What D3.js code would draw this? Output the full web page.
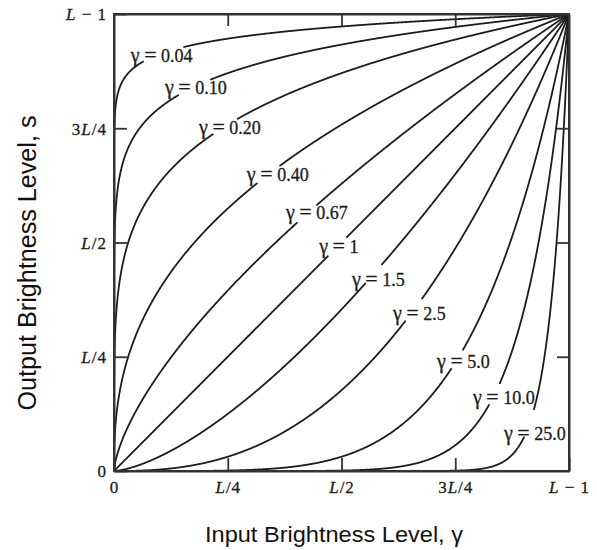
<!DOCTYPE html>
<html>
<head>
<meta charset="utf-8">
<script src="https://cdn.jsdelivr.net/npm/d3@7"></script>
<style>
  html, body { margin: 0; padding: 0; background: #ffffff; }
  svg { display: block; }
</style>
</head>
<body>
<svg id="chart" width="597" height="550"></svg>
<script>
// ---------------- DATA ----------------
// Power-law (gamma) transformation curves s = c·r^γ, both axes normalised to [0, L−1]
const gammas      = [0.04, 0.10, 0.20, 0.40, 0.67, 1, 1.5, 2.5, 5.0, 10.0, 25.0];
const gammaLabels = ["0.04", "0.10", "0.20", "0.40", "0.67", "1", "1.5", "2.5", "5.0", "10.0", "25.0"];
// input level (fraction of L−1) where each curve is interrupted for its label
const gapStart    = [0.064, 0.141, 0.217, 0.314, 0.402, 0.470, 0.552, 0.640, 0.741, 0.824, 0.901];
const gapEnd      = [0.154, 0.213, 0.272, 0.365, 0.446, 0.512, 0.589, 0.677, 0.767, 0.848, 0.923];
// axis ticks
const tickValues  = [0, 0.25, 0.5, 0.75, 1];
const tickLabels  = ["0", "L/4", "L/2", "3L/4", "L − 1"];

// ---------------- LAYOUT (label anchors in data units: start x, baseline y) ----------------
const labelAnchorR = [0.037, 0.112, 0.187, 0.292, 0.378, 0.451, 0.523, 0.613, 0.710, 0.789, 0.857];
const labelAnchorS = [0.894, 0.824, 0.737, 0.635, 0.551, 0.477, 0.405, 0.330, 0.225, 0.147, 0.068];

(function () {
const svg = d3.select("#chart");
const pLeft = 114, pRight = 569, pTop = 14, pBottom = 471;

const x = d3.scaleLinear().domain([0, 1]).range([pLeft, pRight]);
const y = d3.scaleLinear().domain([0, 1]).range([pBottom, pTop]);

const serif = "'Liberation Serif', 'Times New Roman', serif";
const sans = "'Liberation Sans', Arial, sans-serif";
const ink = "#1c1c1c";

// sample input levels densely (finer near 0 for the steep small-gamma curves)
const rSamples = d3.range(0, 1.00001, 0.0005).map(t => t * t);
const rFine = Array.from(new Set(rSamples.concat(d3.range(0, 1.00001, 0.002)))).sort((a, b) => a - b);

const line = d3.line().x(d => x(d[0])).y(d => y(d[1]));

const curves = svg.append("g").attr("fill", "none").attr("stroke", ink)
  .attr("stroke-width", 1.8).attr("stroke-linecap", "round");

gammas.forEach((g, i) => {
  const pw = d3.scalePow().exponent(g).domain([0, 1]).range([0, 1]);
  const seg1 = rFine.filter(r => r <= gapStart[i]).concat([gapStart[i]]).map(r => [r, pw(r)]);
  const seg2 = [gapEnd[i]].concat(rFine.filter(r => r >= gapEnd[i])).map(r => [r, pw(r)]);
  curves.append("path").attr("d", line(seg1));
  curves.append("path").attr("d", line(seg2));
});

// curve labels
const labels = svg.append("g").attr("font-family", serif).attr("fill", ink)
  .attr("stroke", ink).attr("stroke-width", 0.3);
gammas.forEach((g, i) => {
  const t = labels.append("text")
    .attr("x", x(labelAnchorR[i]))
    .attr("y", y(labelAnchorS[i]));
  t.append("tspan").attr("font-size", 20).text("γ");
  t.append("tspan").attr("font-size", 22).attr("dx", 4.5).text("=");
  t.append("tspan").attr("font-size", 18).attr("dx", 4.5).text(gammaLabels[i]);
});

// axes (inward ticks)
function styleTickText(sel) {
  sel.selectAll(".tick text").each(function(d) {
    const t = d3.select(this);
    const s = tickLabels[tickValues.indexOf(d)];
    t.text(null);
    s.split(/(L)/).forEach(p => {
      if (p === "") return;
      t.append("tspan").attr("font-style", p === "L" ? "italic" : "normal").text(p);
    });
  });
}

const fmt = () => "";
const axL = svg.append("g").attr("transform", `translate(${pLeft},0)`)
  .call(d3.axisLeft(y).tickValues(tickValues).tickSizeInner(-13).tickSizeOuter(0).tickPadding(7).tickFormat(fmt));
const axB = svg.append("g").attr("transform", `translate(0,${pBottom})`)
  .call(d3.axisBottom(x).tickValues(tickValues).tickSizeInner(-13).tickSizeOuter(0).tickPadding(9).tickFormat(fmt));
const axR = svg.append("g").attr("transform", `translate(${pRight},0)`)
  .call(d3.axisRight(y).tickValues(tickValues.slice(1, 4)).tickSizeInner(-12).tickSizeOuter(0).tickFormat(fmt));
const axT = svg.append("g").attr("transform", `translate(0,${pTop})`)
  .call(d3.axisTop(x).tickValues(tickValues.slice(1, 4)).tickSizeInner(-12).tickSizeOuter(0).tickFormat(fmt));

[axL, axB].forEach(a => {
  a.selectAll(".tick text").attr("font-family", serif).attr("font-size", 17)
    .attr("letter-spacing", 1).attr("fill", ink).attr("stroke", ink).attr("stroke-width", 0.3);
  styleTickText(a);
});
[axR, axT].forEach(a => a.selectAll(".tick text").remove());
[axL, axB, axR, axT].forEach(a => {
  a.select(".domain").attr("stroke", "#333").attr("stroke-width", 2);
  a.selectAll(".tick line").attr("stroke", "#333").attr("stroke-width", 1.8);
});
axL.selectAll(".tick text").attr("dy", "0.35em");
axB.selectAll(".tick text").attr("dy", "0.75em");

// frame
svg.append("rect").attr("x", pLeft).attr("y", pTop).attr("width", pRight - pLeft).attr("height", pBottom - pTop)
  .attr("fill", "none").attr("stroke", "#333").attr("stroke-width", 2);

// axis titles
svg.append("text").attr("x", 334).attr("y", 542).attr("text-anchor", "middle")
  .attr("font-family", sans).attr("font-size", 22).attr("fill", "#111")
  .attr("textLength", 258).attr("lengthAdjust", "spacingAndGlyphs")
  .text("Input Brightness Level, γ");

svg.append("text").attr("transform", "translate(36,263) rotate(-90)").attr("text-anchor", "middle")
  .attr("font-family", sans).attr("font-size", 25).attr("fill", "#111")
  .attr("textLength", 295).attr("lengthAdjust", "spacingAndGlyphs")
  .text("Output Brightness Level, s");
})();
</script>
</body>
</html>
